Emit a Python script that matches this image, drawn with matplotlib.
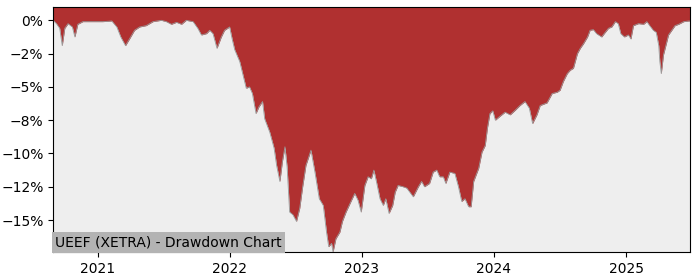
import matplotlib
matplotlib.use('Agg')
import matplotlib.pyplot as plt
import matplotlib.dates as mdates
from matplotlib.ticker import MultipleLocator, PercentFormatter
import numpy as np

# drawdown of UEEF (XETRA), percent below the running high
dates = [
    '2020-08-30', '2020-09-08', '2020-09-17', '2020-09-24', '2020-10-01', '2020-10-10',
    '2020-10-22', '2020-10-29', '2020-11-06', '2020-11-20', '2020-12-18', '2021-01-14',
    '2021-02-08', '2021-02-22', '2021-03-05', '2021-03-18', '2021-03-29', '2021-04-12',
    '2021-04-26', '2021-05-14', '2021-06-02', '2021-06-25', '2021-07-09', '2021-07-23',
    '2021-08-06', '2021-08-20', '2021-09-02', '2021-09-21', '2021-10-04', '2021-10-14',
    '2021-10-28', '2021-11-06', '2021-11-15', '2021-11-26', '2021-12-08', '2021-12-17',
    '2021-12-31', '2022-01-07', '2022-01-14', '2022-01-28', '2022-02-15', '2022-02-24',
    '2022-03-04', '2022-03-14', '2022-03-22', '2022-04-01', '2022-04-07', '2022-04-21',
    '2022-05-03', '2022-05-10', '2022-05-19', '2022-05-26', '2022-06-02', '2022-06-08',
    '2022-06-15', '2022-06-24', '2022-07-04', '2022-07-13', '2022-07-21', '2022-07-30',
    '2022-08-13', '2022-08-24', '2022-09-05', '2022-09-16', '2022-09-25', '2022-10-01',
    '2022-10-09', '2022-10-13', '2022-10-21', '2022-11-01', '2022-11-08', '2022-11-18',
    '2022-11-29', '2022-12-12', '2022-12-21', '2022-12-30', '2023-01-09', '2023-01-18',
    '2023-01-27', '2023-02-03', '2023-02-10', '2023-02-20', '2023-03-01', '2023-03-08',
    '2023-03-17', '2023-03-27', '2023-04-03', '2023-04-11', '2023-04-25', '2023-05-05',
    '2023-05-23', '2023-06-06', '2023-06-15', '2023-06-23', '2023-07-07', '2023-07-17',
    '2023-07-27', '2023-08-04', '2023-08-14', '2023-08-21', '2023-09-01', '2023-09-15',
    '2023-09-25', '2023-10-04', '2023-10-13', '2023-10-23', '2023-10-30', '2023-11-06',
    '2023-11-20', '2023-11-29', '2023-12-08', '2023-12-14', '2023-12-21', '2023-12-29',
    '2024-01-05', '2024-01-18', '2024-02-01', '2024-02-15', '2024-02-29', '2024-03-13',
    '2024-03-27', '2024-04-08', '2024-04-17', '2024-04-29', '2024-05-08', '2024-05-27',
    '2024-06-10', '2024-06-24', '2024-07-02', '2024-07-11', '2024-07-22', '2024-07-30',
    '2024-08-08', '2024-08-19', '2024-08-27', '2024-09-05', '2024-09-16', '2024-09-23',
    '2024-10-02', '2024-10-11', '2024-10-25', '2024-11-04', '2024-11-13', '2024-11-22',
    '2024-12-02', '2024-12-10', '2024-12-17', '2024-12-27', '2025-01-07', '2025-01-14',
    '2025-01-21', '2025-02-04', '2025-02-18', '2025-02-27', '2025-03-07', '2025-03-17',
    '2025-03-25', '2025-04-01', '2025-04-04', '2025-04-08', '2025-04-14', '2025-04-22',
    '2025-04-28', '2025-05-07', '2025-05-16', '2025-05-26', '2025-06-09', '2025-06-23',
    '2025-06-27',
]
drawdown = [
    0.0, -0.25, -0.6, -1.9, -0.6, -0.25,
    -0.5, -1.25, -0.3, -0.1, -0.1, -0.1,
    -0.05, -0.5, -1.25, -1.9, -1.4, -0.75,
    -0.5, -0.4, -0.1, 0.0, -0.1, -0.3,
    -0.15, -0.3, 0.0, -0.1, -0.6, -1.1,
    -1.0, -0.75, -1.0, -2.1, -1.25, -0.75,
    -0.5, -1.4, -2.2, -3.1, -5.1, -5.0,
    -5.5, -7.0, -6.5, -6.1, -7.4, -8.4,
    -9.6, -10.9, -12.1, -10.6, -9.5, -11.0,
    -14.4, -14.6, -15.1, -14.1, -12.5, -10.9,
    -9.75, -11.4, -13.4, -13.9, -15.9, -17.0,
    -16.75, -17.4, -16.4, -15.9, -15.1, -14.4,
    -13.75, -13.0, -13.5, -14.4, -12.4, -11.75,
    -11.9, -11.25, -12.1, -13.4, -13.9, -13.4,
    -14.5, -13.9, -12.9, -12.4, -12.5, -12.6,
    -13.25, -12.5, -12.1, -12.5, -12.25, -11.4,
    -11.25, -11.75, -11.75, -12.25, -11.4, -11.5,
    -12.5, -13.6, -13.4, -14.0, -14.0, -12.1,
    -11.1, -9.9, -9.4, -8.1, -7.0, -6.8,
    -7.5, -7.2, -6.9, -7.1, -6.75, -6.4,
    -6.1, -6.6, -7.75, -7.1, -6.4, -6.2,
    -5.5, -5.4, -5.25, -4.6, -4.0, -3.75,
    -3.6, -2.5, -2.1, -1.75, -1.25, -0.75,
    -0.7, -1.0, -1.25, -0.9, -0.6, -0.5,
    -0.1, -0.25, -1.0, -1.25, -1.1, -1.4,
    -0.4, -0.25, -0.3, -0.1, -0.4, -0.75,
    -0.9, -1.9, -3.1, -4.0, -2.6, -1.75,
    -1.1, -0.75, -0.4, -0.3, -0.1, -0.05,
    -0.05,
]
title = 'UEEF (XETRA) - Drawdown Chart'

x = np.array(dates, dtype='datetime64[D]')
dd = np.array(drawdown)
top = 1.0

fig = plt.figure(figsize=(7, 2.8), dpi=100)
ax = fig.add_axes([0.076, 0.1, 0.91, 0.875])
ax.set_facecolor('#eeeeee')

ax.fill_between(x, dd, top, color='#b03030', linewidth=0)
ax.plot(x, dd, color='#999999', linewidth=0.6)

ax.set_xlim(x[0], x[-1])
ax.set_ylim(dd.min(), top)
ax.yaxis.set_major_locator(MultipleLocator(2.5))
ax.yaxis.set_major_formatter(PercentFormatter(decimals=0))
ax.xaxis.set_major_locator(mdates.YearLocator())
ax.xaxis.set_major_formatter(mdates.DateFormatter('%Y'))

ax.text(0.003, 0.01, title, transform=ax.transAxes, fontsize=10,
        ha='left', va='bottom',
        bbox=dict(facecolor='#b3b3b3', edgecolor='none', pad=2.5))

fig.savefig('out.png')
